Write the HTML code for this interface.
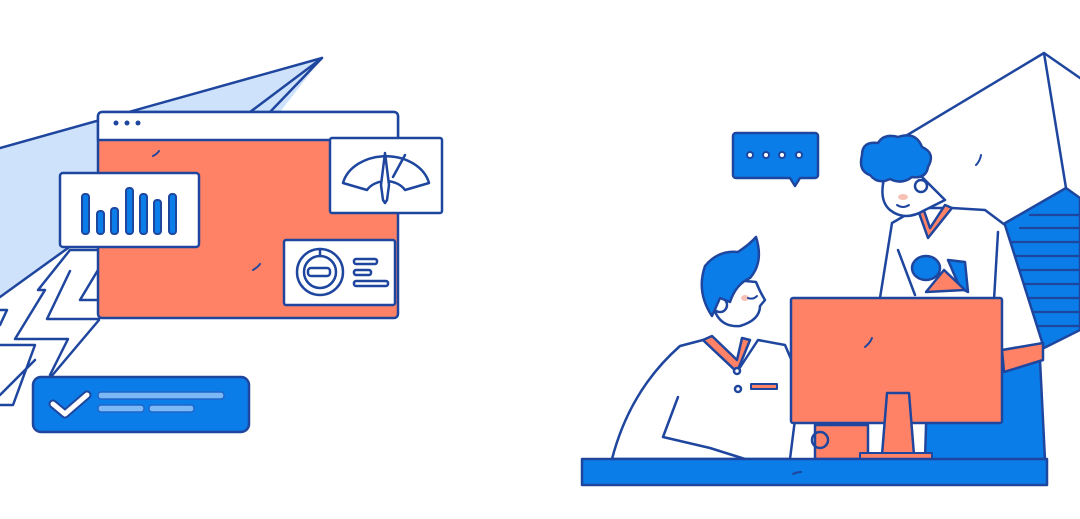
<!DOCTYPE html>
<html><head><meta charset="utf-8"><style>html,body{margin:0;padding:0;background:#fff}svg{display:block}</style></head>
<body>
<svg width="1080" height="519" viewBox="0 0 1080 519" xmlns="http://www.w3.org/2000/svg" fill="none" stroke="#1f469e" stroke-width="2.5" stroke-linejoin="round" stroke-linecap="round">
<!-- LEFT -->
<polygon points="0,148 322,58 280,112 98,112 98,200 60,200 60,248 68,248 0,298" fill="#cfe2fb" stroke="none"/>
<polyline points="0,148 322,58 270,112"/>
<polyline points="322,58 250,112"/>
<line x1="68" y1="248" x2="0" y2="297"/>
<!-- zigzags -->
<path d="M70,250 L98,250 M70,271 L47,319 L99,319 M70,250 L38,290 L45,290 L15,339 L68,339 L50,375 M0,310 L7,310 L0,325 M98,270 L80,300 L98,300 M99,320 L50,378 M0,345 L35,345 L13,405 L0,405 M35,360 L0,395" />
<!-- browser -->
<rect x="98" y="112" width="300" height="206" rx="4" fill="#ff8266"/>
<path d="M98,140 V116 a4,4 0 0 1 4,-4 H394 a4,4 0 0 1 4,4 V140 Z" fill="#fff"/>
<circle cx="116" cy="123" r="2.5" fill="#1f469e" stroke="none"/><circle cx="127" cy="123" r="2.5" fill="#1f469e" stroke="none"/><circle cx="138" cy="123" r="2.5" fill="#1f469e" stroke="none"/>
<path d="M153,156 q4,-2 6,-5 M253,270 q5,-3 7,-6" stroke-width="2"/>
<!-- bar card -->
<rect x="60" y="173" width="139" height="74" rx="3" fill="#fff"/>
<g fill="#0a7de8" stroke-width="2">
<rect x="82" y="194" width="7" height="40" rx="3"/><rect x="97" y="211" width="7" height="23" rx="3"/><rect x="111" y="208" width="7" height="26" rx="3"/><rect x="126" y="188" width="7" height="46" rx="3"/><rect x="140" y="194" width="7" height="40" rx="3"/><rect x="154" y="200" width="7" height="34" rx="3"/><rect x="169" y="194" width="7" height="40" rx="3"/>
</g>
<!-- gauge -->
<rect x="330" y="138" width="112" height="75" rx="2" fill="#fff"/>
<path d="M343,183 A44,34 0 0 1 429,183 L405,190 A22,18 0 0 0 367,190 Z"/>
<path d="M385,153 L389,185 L387,200 L385,203 L383,200 L381,185 Z" fill="#fff"/>
<line x1="405" y1="155" x2="393" y2="177"/>
<!-- circle card -->
<rect x="284" y="240" width="111" height="65" rx="2" fill="#fff"/>
<circle cx="320" cy="272" r="23"/><circle cx="320" cy="272" r="16"/><line x1="320" y1="249" x2="320" y2="256"/>
<rect x="308" y="268" width="22" height="8" rx="3"/>
<rect x="354" y="259" width="23" height="5" rx="2"/><rect x="354" y="270" width="17" height="5" rx="2"/><rect x="354" y="281" width="34" height="5" rx="2"/>
<!-- check card -->
<rect x="33" y="377" width="216" height="55" rx="8" fill="#0a7de8"/>
<polyline points="53,404 65,414 87,395" stroke="#1f469e" stroke-width="9"/>
<polyline points="53,404 65,414 87,395" stroke="#fff" stroke-width="5"/>
<rect x="98" y="392" width="126" height="7" rx="3" fill="#7bb8f5" stroke="#1f66c8" stroke-width="1.5"/>
<rect x="98" y="405" width="46" height="7" rx="3" fill="#7bb8f5" stroke="#1f66c8" stroke-width="1.5"/>
<rect x="149" y="405" width="45" height="7" rx="3" fill="#7bb8f5" stroke="#1f66c8" stroke-width="1.5"/>
<!-- RIGHT -->
<polyline points="904,137 1044,53 1080,78"/>
<line x1="1044" y1="53" x2="1066" y2="188"/>
<polygon points="1000,226 1066,188 1080,198 1080,330 1040,350 1010,260" fill="#0a7de8"/>
<g stroke-width="2.2">
<line x1="1030" y1="215" x2="1080" y2="215"/><line x1="1020" y1="228" x2="1080" y2="228"/><line x1="1006" y1="242" x2="1080" y2="242"/><line x1="1006" y1="256" x2="1080" y2="256"/><line x1="1010" y1="270" x2="1080" y2="270"/><line x1="1014" y1="284" x2="1080" y2="284"/><line x1="1018" y1="298" x2="1080" y2="298"/><line x1="1022" y1="312" x2="1080" y2="312"/><line x1="1026" y1="326" x2="1080" y2="326"/>
</g>
<path d="M976,165 q4,-4 5,-10" stroke-width="2"/>
<!-- speech bubble -->
<path d="M736,133 H815 a3,3 0 0 1 3,3 V175 a3,3 0 0 1 -3,3 H800 L795,186 L790,178 H736 a3,3 0 0 1 -3,-3 V136 a3,3 0 0 1 3,-3 Z" fill="#0a7de8"/>
<g fill="#fff" stroke-width="2"><circle cx="750" cy="155" r="3"/><circle cx="766" cy="155" r="3"/><circle cx="782" cy="155" r="3"/><circle cx="799" cy="155" r="3"/></g>
<!-- standing man -->
<path d="M928,360 H1040 L1045,460 H925 Z" fill="#0a7de8"/>
<path d="M892,223 L918,208 L952,208 L985,210 L1005,225 L1043,345 L1003,362 L930,372 L878,330 L880,298 Z" fill="#fff"/>
<path d="M1002,350 L1043,343 L1043,360 L1004,372 Z" fill="#ff8266"/>
<path d="M918,210 L928,238 L952,208 L945,205 L930,228 L922,205 Z" fill="#ff8266"/>
<line x1="998" y1="232" x2="994" y2="300"/>
<path d="M898,250 L915,295"/>
<path d="M948,260 L965,262 L968,292 L960,288 Z" fill="#0a7de8"/>
<polygon points="926,292 944,270 965,290" fill="#ff8266"/>
<ellipse cx="926" cy="268" rx="14" ry="12" fill="#0a7de8"/>
<path d="M885,175 Q878,200 890,210 Q905,222 925,210 L945,200 L920,175 Z" fill="#fff"/>
<circle cx="921" cy="186" r="6" fill="#fff"/>
<ellipse cx="903" cy="197" rx="5" ry="3" fill="#f7c0b5" stroke="none"/>
<path d="M897,205 q6,4 12,0" stroke-width="2"/>
<path d="M862,155 q0,-14 16,-12 q6,-10 20,-6 q18,-6 24,10 q14,6 6,20 q-2,12 -16,10 q-10,8 -22,2 q-12,6 -20,-4 q-12,-4 -8,-20 Z" fill="#0a7de8"/>
<!-- seated man -->
<path d="M612,459 Q630,390 680,346 L703,340 L737,372 L758,340 L785,345 L800,380 L790,459 Z" fill="#fff"/>
<path d="M703,340 L737,372 L750,340 L742,338 L737,360 L712,336 Z" fill="#ff8266"/>
<circle cx="737" cy="371" r="3" fill="#fff"/><circle cx="738" cy="389" r="3" fill="#fff"/>
<rect x="751" y="384" width="26" height="5" fill="#ff8266" stroke-width="2"/>
<polyline points="678,397 663,437 710,448 745,459"/>
<path d="M712,300 Q716,328 740,326 Q760,320 760,306 L765,300 Q760,292 756,282 L735,280 Z" fill="#fff"/>
<circle cx="720" cy="305" r="7" fill="#fff"/>
<ellipse cx="745" cy="298" rx="4" ry="3" fill="#f7c0b5" stroke="none"/>
<path d="M748,298 q5,2 9,-2" stroke-width="2"/>
<path d="M712,316 Q696,292 705,266 Q718,250 738,252 Q750,244 756,237 Q764,262 750,278 Q736,284 730,302 L720,298 Z" fill="#0a7de8"/>
<!-- monitor -->
<path d="M815,425 H868 V459 H815 Z" fill="#ff8266"/>
<circle cx="820" cy="440" r="8"/>
<rect x="791" y="298" width="211" height="125" rx="2" fill="#ff8266"/>
<path d="M865,347 q5,-4 7,-9" stroke-width="2"/>
<polygon points="887,393 909,393 914,455 882,455" fill="#ff8266"/>
<rect x="860" y="453" width="72" height="6" fill="#ff8266" stroke-width="2"/>
<!-- desk -->
<rect x="582" y="459" width="465" height="26" fill="#0a7de8"/>
<path d="M793,474 q4,-2 8,-2" stroke-width="2"/>
</svg>
</body></html>
